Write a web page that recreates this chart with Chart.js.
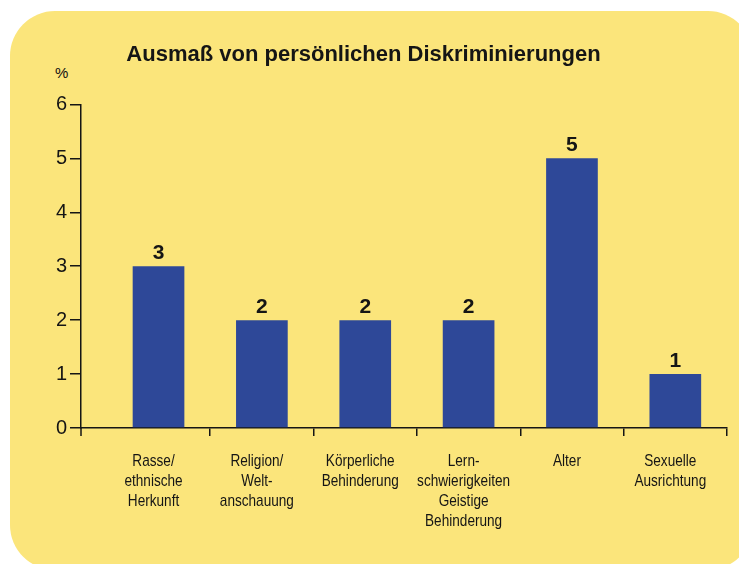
<!DOCTYPE html>
<html>
<head>
<meta charset="utf-8">
<script src="https://cdn.jsdelivr.net/npm/chart.js@4.4.1/dist/chart.umd.min.js"></script>
<style>
  html, body { margin: 0; padding: 0; background: #fff; overflow: hidden; }
  #panel {
    position: absolute; left: 10px; top: 11px; width: 743px; height: 559px;
    background: #fbe57b; border-radius: 45px;
  }
  #wrap { position: absolute; left: 0; top: 0; width: 729px; height: 564px; }
  #unit {
    position: absolute; left: 55px; top: 64px;
    font: 15px "Liberation Sans", Arial, sans-serif; color: #111;
  }
</style>
</head>
<body>
<div id="panel"></div>
<div id="unit">%</div>
<div id="wrap"><canvas id="myChart"></canvas></div>
<script>
var categories = [
    ["Rasse/", "ethnische", "Herkunft"],
    ["Religion/", "Welt-", "anschauung"],
    ["Körperliche", "Behinderung"],
    ["Lern-", "schwierigkeiten", "Geistige", "Behinderung"],
    ["Alter"],
    ["Sexuelle", "Ausrichtung"]
];
var values = [3, 2, 2, 2, 5, 1];
var yTicks = [0, 1, 2, 3, 4, 5, 6];

var ink = '#151515';

// value labels above the bars + y axis running down past the x axis
var barLabels = {
    id: 'barLabels',
    afterDatasetsDraw: function (chart) {
        var ctx = chart.ctx;
        var meta = chart.getDatasetMeta(0);
        ctx.save();
        ctx.font = 'bold 21px "Liberation Sans", Arial, sans-serif';
        ctx.fillStyle = ink;
        ctx.textAlign = 'center';
        ctx.textBaseline = 'alphabetic';
        meta.data.forEach(function (bar, i) {
            ctx.fillText(values[i], bar.x, bar.y - 7);
        });
        var a = chart.chartArea;
        ctx.strokeStyle = ink;
        ctx.lineWidth = 1.5;
        ctx.beginPath();
        ctx.moveTo(a.left, a.bottom);
        ctx.lineTo(a.left, a.bottom + 8);
        ctx.stroke();
        ctx.restore();
    }
};

// category names in a condensed look (no narrow font installed)
var condensedLabels = {
    id: 'condensedLabels',
    afterDraw: function (chart) {
        var ctx = chart.ctx;
        var xs = chart.scales.x;
        ctx.save();
        ctx.font = '17px "Liberation Sans", Arial, sans-serif';
        ctx.fillStyle = ink;
        ctx.textAlign = 'center';
        ctx.textBaseline = 'alphabetic';
        xs.ticks.forEach(function (t, i) {
            var x = xs.getPixelForTick(i) - 5;
            categories[i].forEach(function (line, j) {
                ctx.save();
                ctx.translate(x, xs.top + 38 + j * 20);
                ctx.scale(0.8, 1);
                ctx.fillText(line, 0, 0);
                ctx.restore();
            });
        });
        ctx.restore();
    }
};

function renderChart() {
    var ctx = document.getElementById("myChart").getContext('2d');
    var points = values.map(function (v, i) { return {x: i, y: v}; });
    new Chart(ctx, {
        type: 'bar',
        data: {
            datasets: [{
                data: points,
                backgroundColor: '#2e4898',
                borderWidth: 0,
                categoryPercentage: 1,
                barPercentage: 0.5
            }]
        },
        options: {
            responsive: true,
            maintainAspectRatio: false,
            animation: false,
            layout: { padding: { left: 0, right: 2, top: 42, bottom: 26 } },
            plugins: {
                legend: { display: false },
                tooltip: { enabled: false },
                title: {
                    display: true,
                    text: 'Ausmaß von persönlichen Diskriminierungen',
                    color: ink,
                    font: { family: '"Liberation Sans", Arial, sans-serif', size: 22, weight: 'bold', lineHeight: 1.2 },
                    padding: { top: 0, bottom: 36 }
                }
            },
            scales: {
                x: {
                    type: 'linear',
                    offset: false,
                    min: -0.75,
                    max: 5.5,
                    afterBuildTicks: function (scale) {
                        scale.ticks = categories.map(function (c, i) { return {value: i}; });
                    },
                    afterFit: function (scale) { scale.height = 110; },
                    ticks: { display: false },
                    grid: {
                        offset: true,
                        drawOnChartArea: false,
                        tickLength: 8,
                        lineWidth: 1.5,
                        color: function (c) {
                            return (c.type === 'tick' && c.index === 0) ? 'rgba(0,0,0,0)' : ink;
                        }
                    },
                    border: { color: ink, width: 1.5 }
                },
                y: {
                    min: 0,
                    max: 6,
                    afterBuildTicks: function (scale) {
                        scale.ticks = yTicks.map(function (t) { return {value: t}; });
                    },
                    afterFit: function (scale) { scale.width = 81; },
                    ticks: {
                        padding: 3,
                        color: ink,
                        font: { family: '"Liberation Sans", Arial, sans-serif', size: 20 }
                    },
                    grid: {
                        drawOnChartArea: false,
                        tickLength: 11,
                        lineWidth: 1.5,
                        color: ink
                    },
                    border: { color: ink, width: 1.5 }
                }
            }
        },
        plugins: [barLabels, condensedLabels]
    });
}

function ready() {
    renderChart();
}

document.addEventListener("DOMContentLoaded", ready);
</script>
</body>
</html>
